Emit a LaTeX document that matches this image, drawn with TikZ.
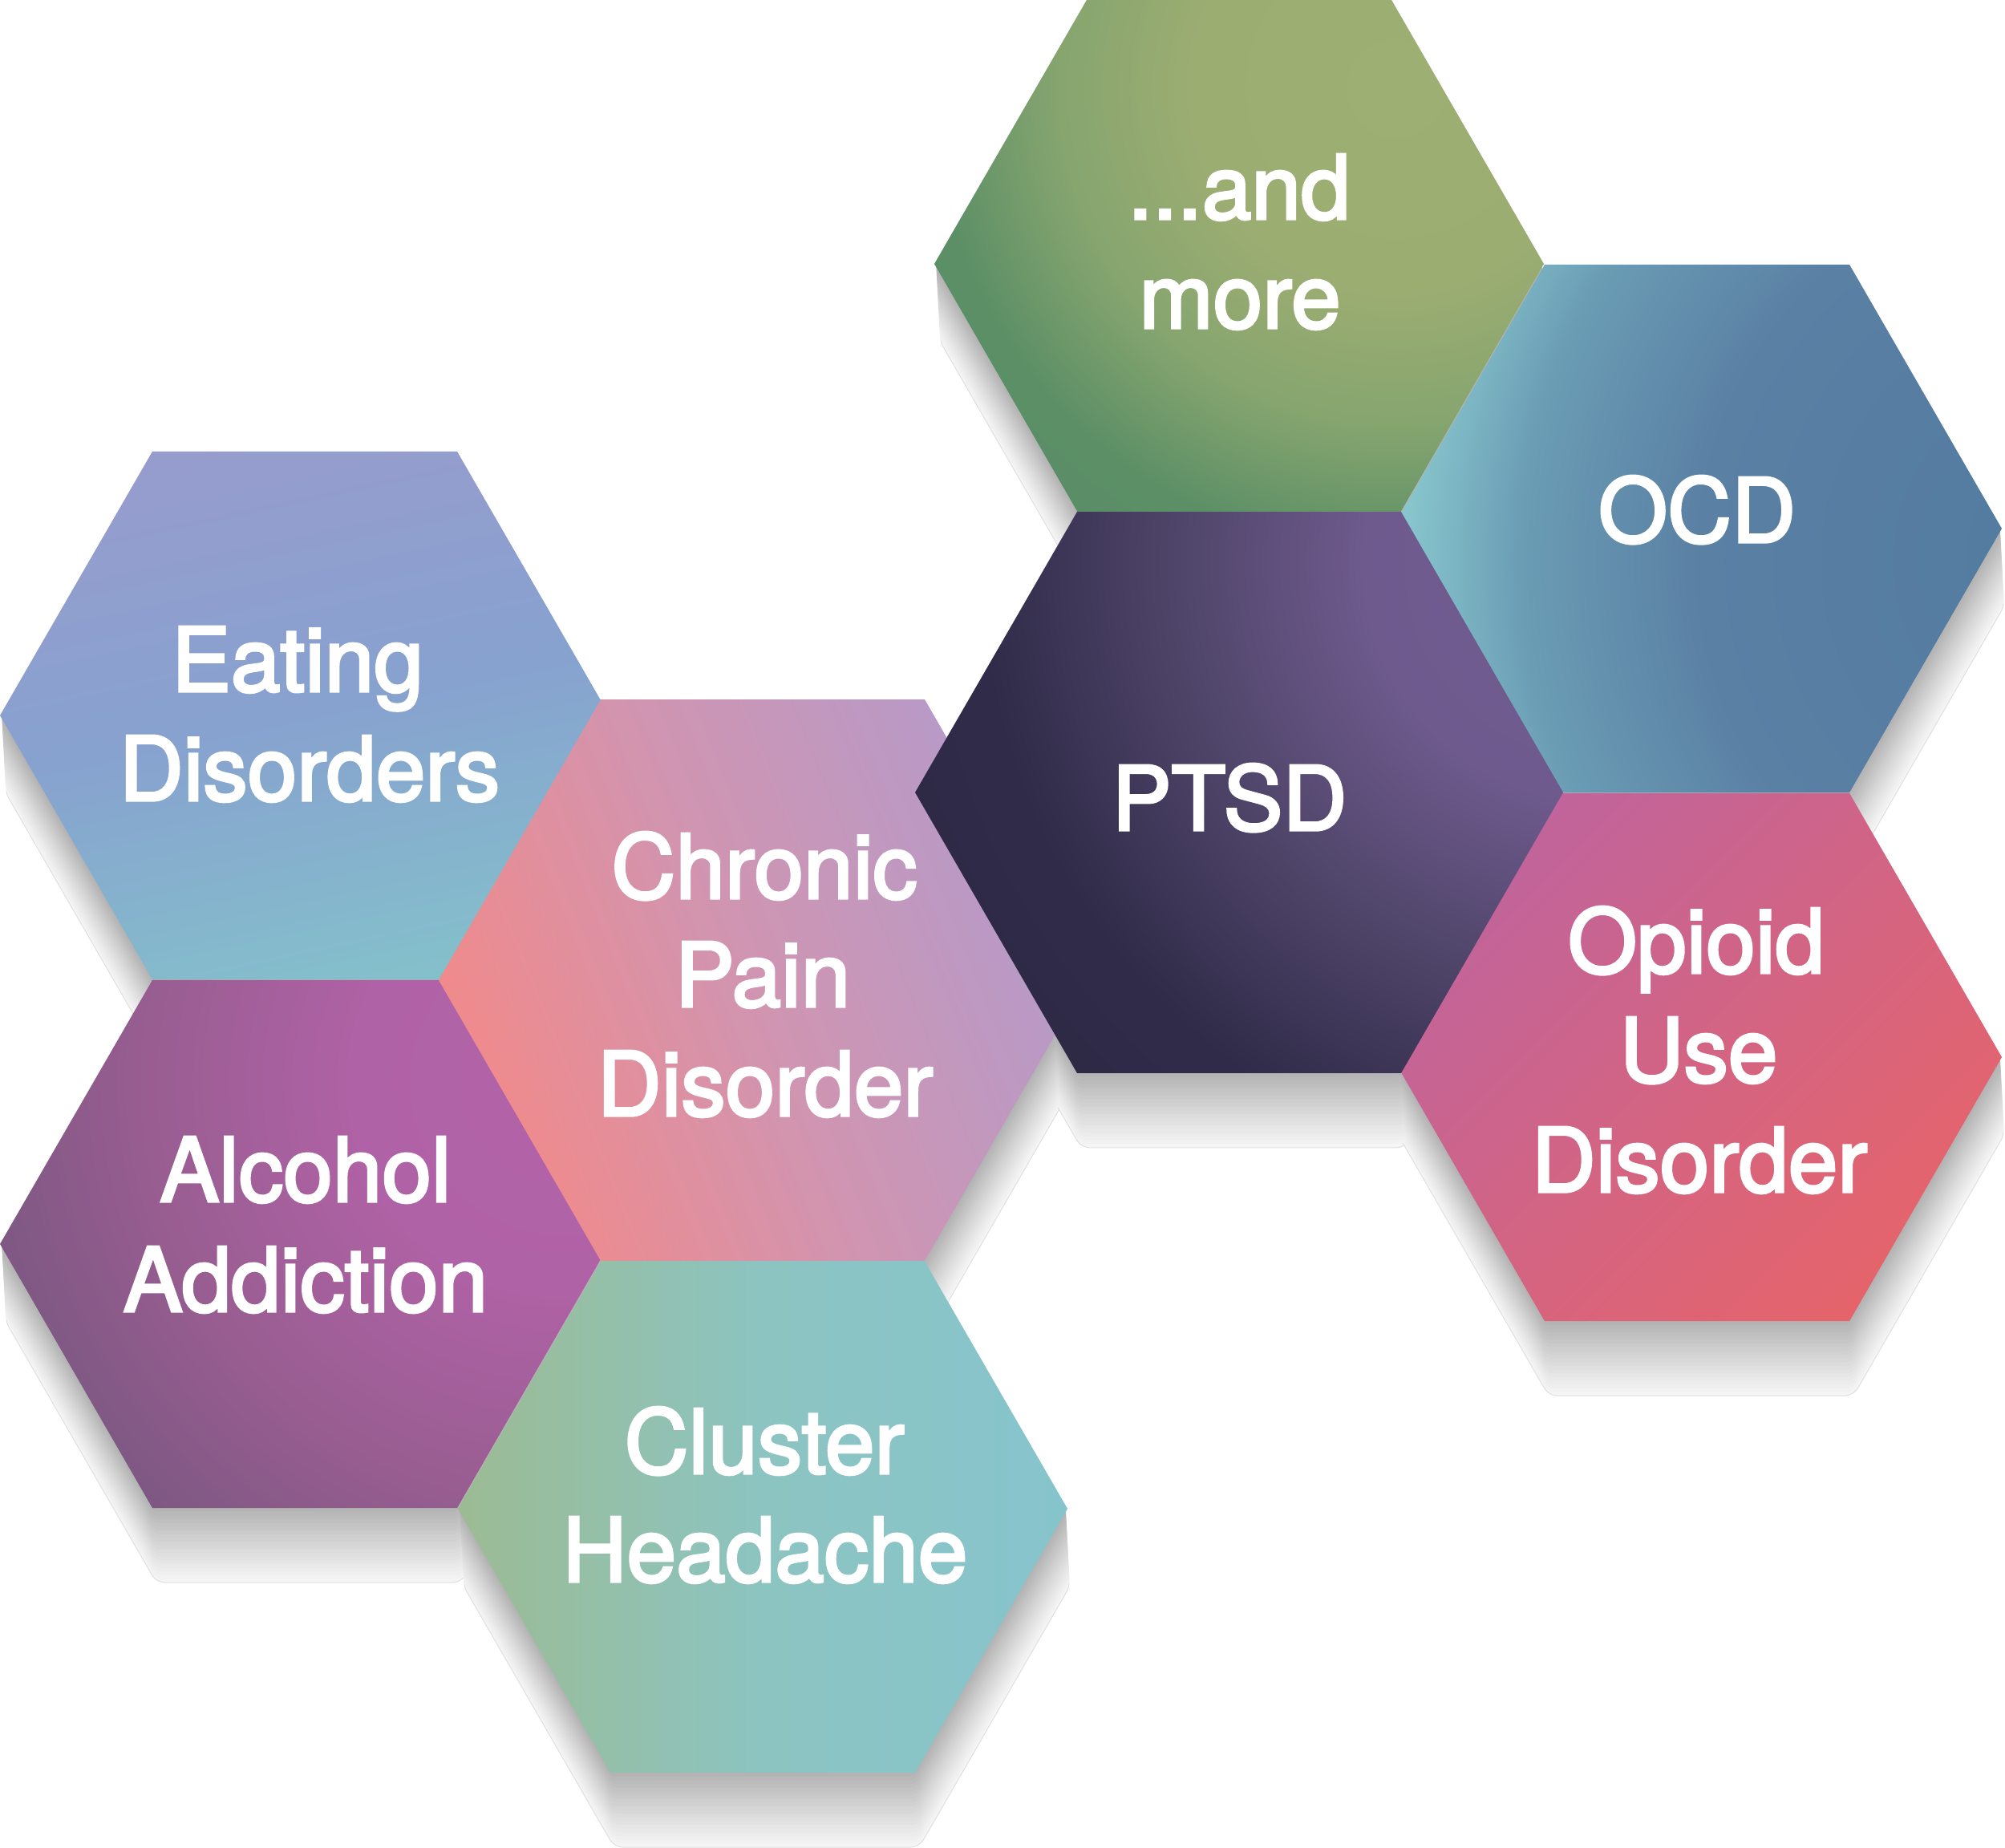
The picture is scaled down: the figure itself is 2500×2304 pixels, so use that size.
\documentclass[tikz,border=0pt]{standalone}
\usepackage{fontspec}
\newfontfamily\hexfam{TeX Gyre Heros}[FakeBold=3]
\definecolor{eatA}{HTML}{969CCE}
\definecolor{eatB}{HTML}{87A2CF}
\definecolor{eatC}{HTML}{84C0CB}
\definecolor{chrA}{HTML}{F28A8A}
\definecolor{chrB}{HTML}{CF95B2}
\definecolor{chrC}{HTML}{B39BCB}
\definecolor{cluA}{HTML}{9CBB92}
\definecolor{cluB}{HTML}{8CC4C1}
\definecolor{cluC}{HTML}{86C4CD}
\definecolor{opiA}{HTML}{C0649C}
\definecolor{opiC}{HTML}{E5646B}
\definecolor{morA}{HTML}{9EAF73}
\definecolor{morB}{HTML}{9CAD72}
\definecolor{morC}{HTML}{86A56F}
\definecolor{morD}{HTML}{5C8F66}
\definecolor{morE}{HTML}{5A8E66}
\definecolor{ptsA}{HTML}{735D93}
\definecolor{ptsB}{HTML}{6E5A8D}
\definecolor{ptsC}{HTML}{4E4468}
\definecolor{ptsD}{HTML}{302B49}
\definecolor{ptsE}{HTML}{2E2A46}
\definecolor{ocdA}{HTML}{527A9F}
\definecolor{ocdB}{HTML}{5A80A4}
\definecolor{ocdC}{HTML}{6A9CB4}
\definecolor{ocdD}{HTML}{88C6CD}
\definecolor{ocdE}{HTML}{8AC8CD}
\definecolor{alcA}{HTML}{B364A9}
\definecolor{alcB}{HTML}{B062A6}
\definecolor{alcC}{HTML}{975D90}
\definecolor{alcD}{HTML}{7E5883}
\definecolor{alcE}{HTML}{7D5782}
% radial shadings: 25bp corresponds to the radius (1000 units) of the shaded circle
\pgfdeclareradialshading{moreshade}{\pgfpoint{0bp}{0bp}}{color(0bp)=(morA); color(6.25bp)=(morB); color(10.5bp)=(morC); color(14.5bp)=(morD); color(16.5bp)=(morE); color(50bp)=(morE)}
\pgfdeclareradialshading{ptsdshade}{\pgfpoint{0bp}{0bp}}{color(0bp)=(ptsA); color(7.5bp)=(ptsB); color(13.5bp)=(ptsC); color(19.5bp)=(ptsD); color(22.5bp)=(ptsE); color(50bp)=(ptsE)}
\pgfdeclareradialshading{ocdshade}{\pgfpoint{0bp}{0bp}}{color(0bp)=(ocdA); color(12bp)=(ocdB); color(17.5bp)=(ocdC); color(21.25bp)=(ocdD); color(25bp)=(ocdE); color(50bp)=(ocdE)}
\pgfdeclareradialshading{alcshade}{\pgfpoint{0bp}{0bp}}{color(0bp)=(alcA); color(6.3bp)=(alcB); color(13.3bp)=(alcC); color(18.2bp)=(alcD); color(19bp)=(alcE); color(50bp)=(alcE)}
\newcommand\hexpath[3]{([shift={(#1,#2)}]0:#3) -- ([shift={(#1,#2)}]60:#3) -- ([shift={(#1,#2)}]120:#3) -- ([shift={(#1,#2)}]180:#3) -- ([shift={(#1,#2)}]240:#3) -- ([shift={(#1,#2)}]300:#3) -- cycle}
\tikzset{
  lbl/.style={anchor=base, text=white, inner sep=0pt, font=\hexfam\fontsize{31.5}{38}\selectfont},
}
\begin{document}
\begin{tikzpicture}[x=0.01cm, y=-0.01cm]
\useasboundingbox (0,0) rectangle (2500,2304);
\fill[white] (0,0) rectangle (2500,2304);
% drop shadows
\foreach \k in {20,19,...,1}{
  \pgfmathsetmacro\dy{93*\k/20}
  \pgfmathsetmacro\dx{5*\k/20}
  \pgfmathsetmacro\pc{4+27*(1-\k/20)^1.1}
  \foreach \cx/\cy/\r in {380/892/380, 380/1551/380, 951/1222/404, 951/1881/380, 1545/329/380, 1545/988/404, 2116/659/380, 2116/1318/380}{
    \ifnum\k=20
      \filldraw[fill=black!\pc, draw=black!12, line width=0.3pt, rounded corners=3pt] \hexpath{\cx+\dx}{\cy+\dy}{\r};
    \else
      \fill[black!\pc, rounded corners=2pt] \hexpath{\cx+\dx}{\cy+\dy}{\r};
    \fi
  }
}
% Eating Disorders
\begin{scope}
  \clip \hexpath{380}{892}{380};
  \shade[top color=eatA, bottom color=eatC, middle color=eatB, shading angle=12] (-10,550) rectangle (770,1235);
\end{scope}
% Alcohol Addiction
\begin{scope}
  \clip \hexpath{380}{1551}{380};
  \shade[shading=alcshade] (700,1350) circle (1000);
\end{scope}
% Cluster Headache
\begin{scope}
  \clip \hexpath{951}{1881}{380};
  \shade[left color=cluA, right color=cluC, middle color=cluB] (565,1545) rectangle (1337,2215);
\end{scope}
% Chronic Pain Disorder
\begin{scope}
  \clip \hexpath{951}{1222}{404};
  \shade[top color=chrA, bottom color=chrC, middle color=chrB, shading angle=112] (540,865) rectangle (1362,1580);
\end{scope}
% ...and more
\begin{scope}
  \clip \hexpath{1545}{329}{380};
  \shade[shading=moreshade] (1740,110) circle (1000);
\end{scope}
% OCD
\begin{scope}
  \clip \hexpath{2116}{659}{380};
  \shade[shading=ocdshade] (2600,700) circle (1000);
\end{scope}
% Opioid Use Disorder
\begin{scope}
  \clip \hexpath{2116}{1318}{380};
  \shade[top color=opiA, bottom color=opiC, shading angle=45] (1730,985) rectangle (2500,1652);
\end{scope}
% PTSD
\begin{scope}
  \clip \hexpath{1545}{988}{404};
  \shade[shading=ptsdshade] (2000,700) circle (1000);
\end{scope}
% labels
\node[lbl] (eat1) at (371,862) {Eating};
\node[lbl] (eat2) at (386,998) {Disorders};
\node[lbl] (chr1) at (953,1120) {Chronic};
\node[lbl] (chr2) at (951,1255) {Pain};
\node[lbl] (chr3) at (954,1391) {Disorder};
\node[lbl] (alc1) at (381,1498) {Alcohol};
\node[lbl] (alc2) at (381,1635) {Addiction};
\node[lbl] (clu1) at (953,1837) {Cluster};
\node[lbl] (clu2) at (954,1972) {Headache};
\node[lbl] (mor1) at (1545,273) {...and};
\node[lbl] (mor2) at (1546,409) {more};
\node[lbl] (pts) at (1533,1035) {PTSD};
\node[lbl] (ocd) at (2116,676) {OCD};
\node[lbl] (opi1) at (2115,1213) {Opioid};
\node[lbl] (opi2) at (2118,1349) {Use};
\node[lbl] (opi3) at (2119,1486) {Disorder};
\end{tikzpicture}
\end{document}
